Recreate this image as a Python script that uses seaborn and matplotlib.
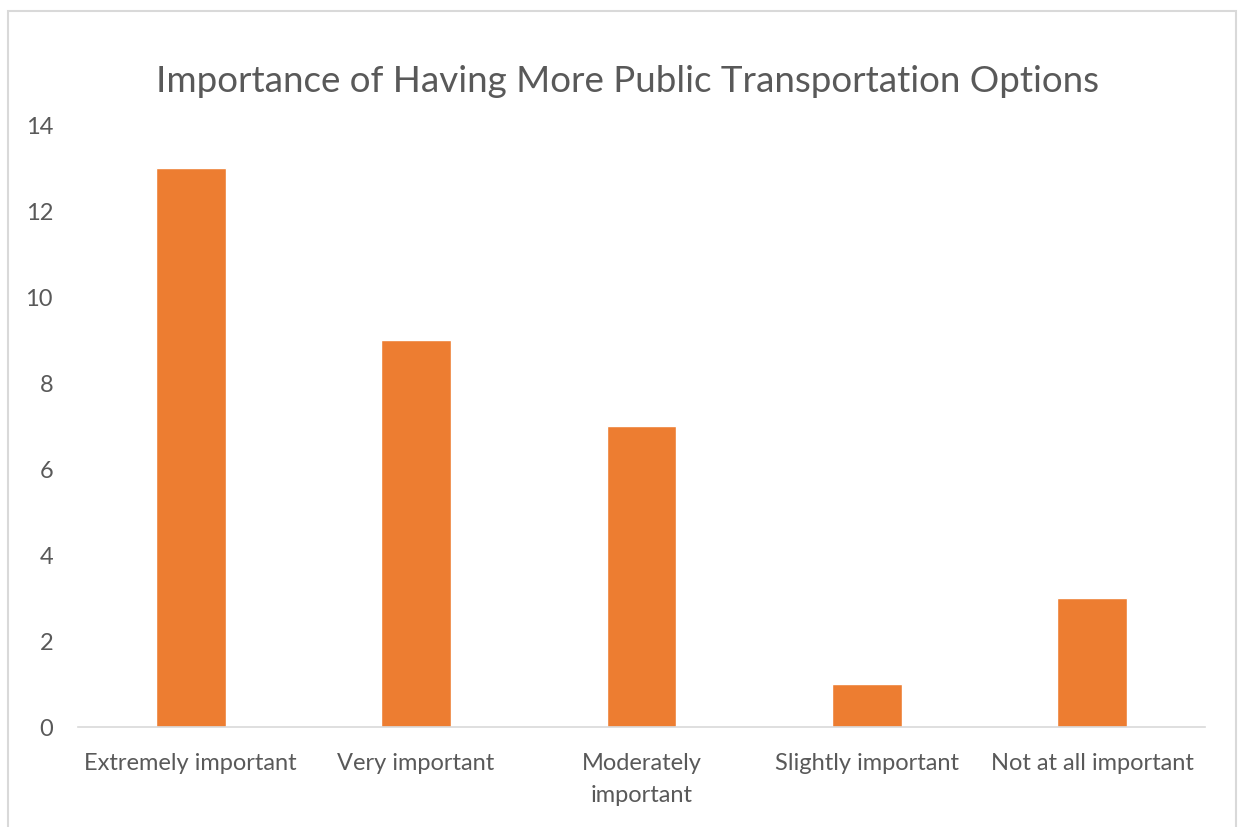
import matplotlib
matplotlib.use("Agg")
import matplotlib.pyplot as plt
import seaborn as sns
import pandas as pd
from matplotlib.patches import Rectangle

categories = ["Extremely important", "Very important", "Moderately\nimportant",
              "Slightly important", "Not at all important"]
counts = [13, 9, 7, 1, 3]
yticks = [0, 2, 4, 6, 8, 10, 12, 14]
title = "Importance of Having More Public Transportation Options"

sns.set_theme(style="white")
plt.rcParams['font.family'] = ['Lato', 'DejaVu Sans']

W, H = 1238, 827
fig = plt.figure(figsize=(W / 100, H / 100), dpi=100)
ax = fig.add_axes([78 / W, 1 - 727 / H, (1205 - 78) / W, (727 - 125) / H])

df = pd.DataFrame({"category": categories, "count": counts})
sns.barplot(data=df, x="category", y="count", color="#ED7D31", saturation=1,
            width=0.31, ax=ax)

text_color = "#595959"
ax.set_ylim(0, 14)
ax.set_yticks(yticks)
ax.set_xlim(-0.5, len(categories) - 0.5)
ax.set_xlabel("")
ax.set_ylabel("")
for s in ["top", "right", "left"]:
    ax.spines[s].set_visible(False)
ax.spines["bottom"].set_color("#d9d9d9")
ax.spines["bottom"].set_linewidth(1.2)
ax.tick_params(axis="both", length=0, labelsize=17, colors=text_color)
ax.tick_params(axis="y", pad=18)
ax.tick_params(axis="x", pad=19)
for lbl in ax.get_xticklabels():
    lbl.set_linespacing(1.6)

fig.text(627 / W, 1 - 81 / H, title, ha="center", va="center",
         fontsize=26.5, color=text_color)

fig.patches.append(Rectangle((8 / W, -0.05), (1236 - 8) / W, 1.05 - 11 / H,
                             transform=fig.transFigure, fill=False,
                             edgecolor="#d9d9d9", linewidth=1.5))

fig.savefig("out.png", dpi=100, facecolor="white")
